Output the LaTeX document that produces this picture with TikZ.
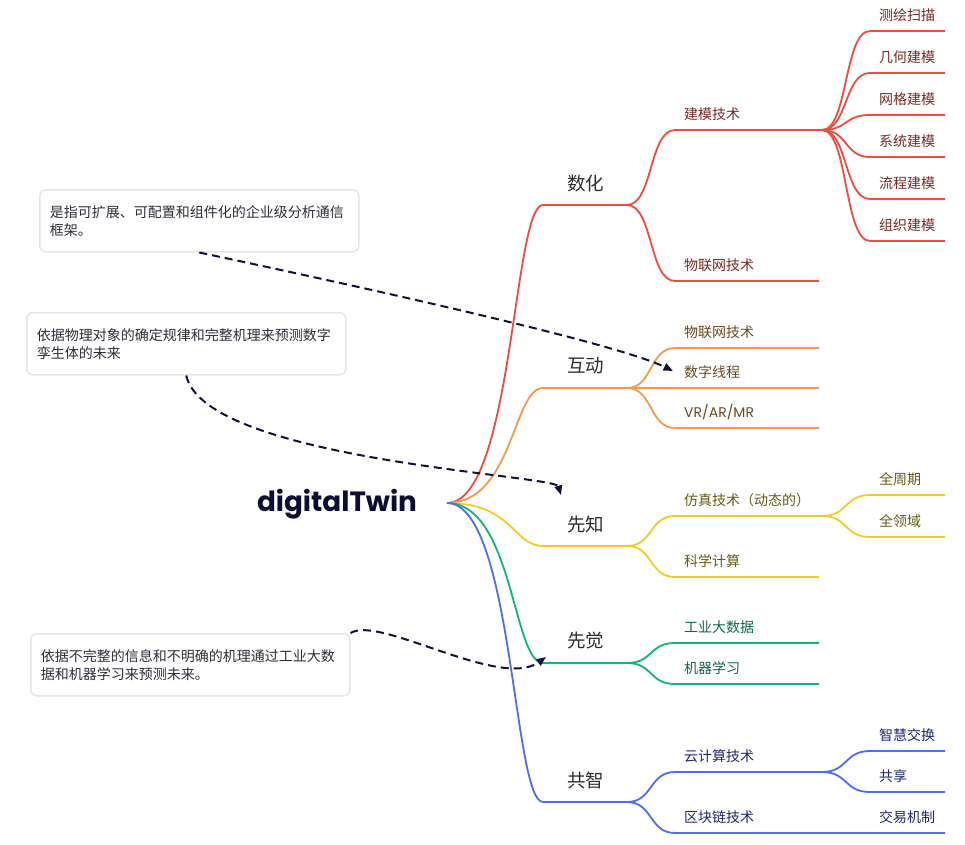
\documentclass[tikz,border=0pt]{standalone}
\usepackage{fontspec}
\setmainfont{Poppins}
\newfontfamily\cjk{Noto Sans CJK SC}
\usetikzlibrary{arrows.meta}

\definecolor{lnred}{HTML}{F24A3E}
\definecolor{lnorange}{HTML}{F39B4C}
\definecolor{lnyellow}{HTML}{F3CC27}
\definecolor{lngreen}{HTML}{10B57C}
\definecolor{lnblue}{HTML}{4B6EF3}
\definecolor{txred}{HTML}{7A2A22}
\definecolor{txorange}{HTML}{6E4A22}
\definecolor{txyellow}{HTML}{6B5A12}
\definecolor{txgreen}{HTML}{0F6A47}
\definecolor{txblue}{HTML}{1D2A6E}
\definecolor{topictext}{HTML}{2E2E2E}
\definecolor{roottext}{HTML}{0D0D33}
\definecolor{notegray}{HTML}{E6E6E6}
\definecolor{notetext}{HTML}{2E2E3A}
\definecolor{hintcol}{HTML}{11113A}

\begin{document}
\begin{tikzpicture}[x=1pt,y=-1pt,
    every node/.style={inner sep=0pt},
    rootlabel/.style={font=\bfseries\fontsize{27.8}{32}\selectfont,text=roottext},
    topic/.style={anchor=west,font=\cjk\fontsize{18.5}{22}\selectfont,text=topictext},
    sub/.style={anchor=west,font=\cjk\fontsize{14}{17}\selectfont},
    note/.style={draw=notegray,line width=1.5pt,rounded corners=6pt,fill=white,
      anchor=north west,text width=299pt,inner xsep=10pt,minimum height=62pt,
      align=left,font=\cjk\fontsize{14}{18}\selectfont,text=notetext},
    wire/.style={line width=1.8pt},
    rootlink/.style={to path={.. controls ([xshift=66pt]\tikztostart) and ([xshift=-30pt]\tikztotarget) .. (\tikztotarget)}},
    link/.style={to path={.. controls ([xshift=26pt]\tikztostart) and ([xshift=-26pt]\tikztotarget) .. (\tikztotarget)}},
    hint/.style={draw=hintcol,line width=2pt,dash pattern=on 8pt off 5pt,-{Triangle[length=9.5pt,width=7.5pt]}}]

    \fill[white] (0,0) rectangle (965,844);
    \useasboundingbox (0,0) rectangle (965,844);

    \node[rootlabel] (root) at (337,504) {digitalTwin};
    \coordinate (hub) at (447,503);

    \coordinate (shu1) at (543,205);  \coordinate (shu2) at (627,205);
    \coordinate (hu1) at (543,388);   \coordinate (hu2) at (627,388);
    \coordinate (xz1) at (543,546);   \coordinate (xz2) at (627,546);
    \coordinate (xj1) at (543,663);   \coordinate (xj2) at (627,663);
    \coordinate (gz1) at (543,802);   \coordinate (gz2) at (627,802);

    \node[topic] (shu) at (567,183) {数化};
    \node[topic] (hu) at (567,366) {互动};
    \node[topic] (xz) at (567,524) {先知};
    \node[topic] (xj) at (567,641) {先觉};
    \node[topic] (gz) at (567,780) {共智};

    \coordinate (jm1) at (675,130);   \coordinate (jm2) at (822,130);
    \coordinate (wla1) at (675,281);  \coordinate (wla2) at (819,281);
    \coordinate (wlb1) at (675,348);  \coordinate (wlb2) at (819,348);
    \coordinate (sx2) at (819,388);
    \coordinate (vr1) at (675,428);   \coordinate (vr2) at (819,428);
    \coordinate (fz1) at (675,516);   \coordinate (fz2) at (822,516);
    \coordinate (kx1) at (675,577);   \coordinate (kx2) at (819,577);
    \coordinate (gy1) at (675,643);   \coordinate (gy2) at (819,643);
    \coordinate (jq1) at (675,684);   \coordinate (jq2) at (819,684);
    \coordinate (yj1) at (675,772);   \coordinate (yj2) at (822,772);
    \coordinate (qk1) at (675,833);   \coordinate (qk2) at (945,833);

    \node[sub,text=txred] (jm) at (684,114) {建模技术};
    \node[sub,text=txred] (wla) at (684,265) {物联网技术};
    \node[sub,text=txorange] (wlb) at (684,332) {物联网技术};
    \node[sub,text=txorange] (sx) at (684,372) {数字线程};
    \node[sub,text=txorange,font=\fontsize{14}{17}\selectfont] (vr) at (684,412) {VR/AR/MR};
    \node[sub,text=txyellow] (fz) at (684,500) {仿真技术（动态的）};
    \node[sub,text=txyellow] (kx) at (684,561) {科学计算};
    \node[sub,text=txgreen] (gy) at (684,627) {工业大数据};
    \node[sub,text=txgreen] (jq) at (684,668) {机器学习};
    \node[sub,text=txblue] (yj) at (684,756) {云计算技术};
    \node[sub,text=txblue] (qk) at (684,817) {区块链技术};

    \coordinate (ch1) at (870,31);    \coordinate (ch2) at (945,31);
    \coordinate (jh1) at (870,73);    \coordinate (jh2) at (945,73);
    \coordinate (wg1) at (870,115);   \coordinate (wg2) at (945,115);
    \coordinate (xt1) at (870,157);   \coordinate (xt2) at (945,157);
    \coordinate (lc1) at (870,199);   \coordinate (lc2) at (945,199);
    \coordinate (zz1) at (870,241);   \coordinate (zz2) at (945,241);
    \coordinate (qzq1) at (870,495);  \coordinate (qzq2) at (945,495);
    \coordinate (qly1) at (870,537);  \coordinate (qly2) at (945,537);
    \coordinate (zh1) at (870,751);   \coordinate (zh2) at (945,751);
    \coordinate (gx1) at (870,792);   \coordinate (gx2) at (945,792);

    \node[sub,text=txred] (ch) at (879,15) {测绘扫描};
    \node[sub,text=txred] (jh) at (879,57) {几何建模};
    \node[sub,text=txred] (wg) at (879,99) {网格建模};
    \node[sub,text=txred] (xt) at (879,141) {系统建模};
    \node[sub,text=txred] (lc) at (879,183) {流程建模};
    \node[sub,text=txred] (zz) at (879,225) {组织建模};
    \node[sub,text=txyellow] (qzq) at (879,479) {全周期};
    \node[sub,text=txyellow] (qly) at (879,521) {全领域};
    \node[sub,text=txblue] (zh) at (879,735) {智慧交换};
    \node[sub,text=txblue] (gx) at (879,776) {共享};
    \node[sub,text=txblue] (jy) at (879,817) {交易机制};

    \draw[wire,lnred] (hub) to[rootlink] (shu1) -- (shu2);
    \draw[wire,lnorange] (hub) to[rootlink] (hu1) -- (hu2);
    \draw[wire,lnyellow] (hub) to[rootlink] (xz1) -- (xz2);
    \draw[wire,lngreen] (hub) to[rootlink] (xj1) -- (xj2);
    \draw[wire,lnblue] (hub) to[rootlink] (gz1) -- (gz2);

    \draw[wire,lnred] (shu2) to[link] (jm1) -- (jm2);
    \draw[wire,lnred] (shu2) to[link] (wla1) -- (wla2);
    \draw[wire,lnorange] (hu2) to[link] (wlb1) -- (wlb2);
    \draw[wire,lnorange] (hu2) -- (sx2);
    \draw[wire,lnorange] (hu2) to[link] (vr1) -- (vr2);
    \draw[wire,lnyellow] (xz2) to[link] (fz1) -- (fz2);
    \draw[wire,lnyellow] (xz2) to[link] (kx1) -- (kx2);
    \draw[wire,lngreen] (xj2) to[link] (gy1) -- (gy2);
    \draw[wire,lngreen] (xj2) to[link] (jq1) -- (jq2);
    \draw[wire,lnblue] (gz2) to[link] (yj1) -- (yj2);
    \draw[wire,lnblue] (gz2) to[link] (qk1) -- (qk2);

    \draw[wire,lnred] (jm2) to[link] (ch1) -- (ch2);
    \draw[wire,lnred] (jm2) to[link] (jh1) -- (jh2);
    \draw[wire,lnred] (jm2) to[link] (wg1) -- (wg2);
    \draw[wire,lnred] (jm2) to[link] (xt1) -- (xt2);
    \draw[wire,lnred] (jm2) to[link] (lc1) -- (lc2);
    \draw[wire,lnred] (jm2) to[link] (zz1) -- (zz2);
    \draw[wire,lnyellow] (fz2) to[link] (qzq1) -- (qzq2);
    \draw[wire,lnyellow] (fz2) to[link] (qly1) -- (qly2);
    \draw[wire,lnblue] (yj2) to[link] (zh1) -- (zh2);
    \draw[wire,lnblue] (yj2) to[link] (gx1) -- (gx2);

    \node[note] (noteA) at (39,189) {是指可扩展、可配置和组件化的企业级分析通信\\框架。};
    \node[note] (noteB) at (26,312) {依据物理对象的确定规律和完整机理来预测数字\\孪生体的未来};
    \node[note] (noteC) at (30,633) {依据不完整的信息和不明确的机理通过工业大数\\据和机器学习来预测未来。};

    \coordinate (tipA) at (673,371);
    \coordinate (tipB) at (561,495);
    \coordinate (tipC) at (546,657);

    \draw[hint] (noteA.south) .. controls (400,295) and (620,345) .. (tipA);
    \draw[hint] (noteB.south) .. controls (205,460) and (555,475) .. (tipB);
    \draw[hint] (noteC.north east) .. controls (380,615) and (500,690) .. (tipC);
  \end{tikzpicture}
\end{document}
